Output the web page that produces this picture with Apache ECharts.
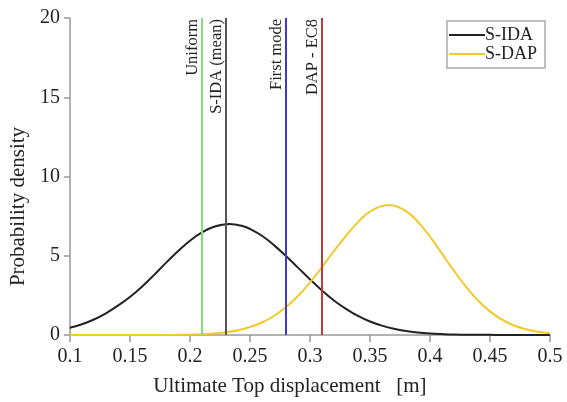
<!DOCTYPE html>
<html>
<head>
<meta charset="utf-8">
<script src="https://cdn.jsdelivr.net/npm/echarts@6/dist/echarts.min.js"></script>
<style>
  html, body {margin: 0; padding: 0; background: #fff;}
  #chart {width: 567px; height: 402px;}
</style>
</head>
<body>
<div id="chart"></div>
<script>
// S-IDA curve: displacement (m) and density
const idaX = [0.10, 0.11, 0.12, 0.13, 0.14, 0.15, 0.16, 0.17, 0.18, 0.19,
  0.20, 0.21, 0.22, 0.233, 0.245, 0.25, 0.26, 0.27, 0.28, 0.29,
  0.30, 0.31, 0.32, 0.33, 0.34, 0.35, 0.36, 0.37, 0.38, 0.39,
  0.40, 0.41, 0.42, 0.43, 0.44, 0.45, 0.46, 0.48, 0.50];
const idaY = [0.46, 0.68, 0.98, 1.37, 1.85, 2.40, 3.05, 3.78, 4.55, 5.28,
  5.95, 6.47, 6.83, 7.00, 6.85, 6.69, 6.26, 5.67, 4.98, 4.25,
  3.51, 2.81, 2.18, 1.65, 1.20, 0.85, 0.59, 0.39, 0.25, 0.16,
  0.10, 0.06, 0.03, 0.02, 0.01, 0.01, 0, 0, 0];
// S-DAP curve
const dapX = [0.10, 0.12, 0.14, 0.16, 0.18, 0.19,
  0.20, 0.21, 0.22, 0.23, 0.24, 0.25, 0.26, 0.27, 0.28, 0.29,
  0.30, 0.31, 0.32, 0.33, 0.34, 0.35, 0.366, 0.38, 0.39,
  0.40, 0.41, 0.42, 0.43, 0.44, 0.45, 0.46, 0.47, 0.48, 0.49, 0.50];
const dapY = [0, 0, 0, 0, 0, 0.01,
  0.02, 0.05, 0.10, 0.17, 0.30, 0.50, 0.79, 1.20, 1.76, 2.46,
  3.31, 4.28, 5.30, 6.26, 7.12, 7.78, 8.20, 7.82, 7.14,
  6.21, 5.13, 4.05, 3.05, 2.18, 1.49, 0.97, 0.60, 0.36, 0.20, 0.11];
// reference displacements
const refNames = ['Uniform', 'S-IDA (mean)', 'First mode', 'DAP - EC8'];
const refValues = [0.21, 0.233, 0.278, 0.312];
const refColors = ['#7fe07f', '#555555', '#3a3ad0', '#c0393b'];
const xTicks = ['0.1', '0.15', '0.2', '0.25', '0.3', '0.35', '0.4', '0.45', '0.5'];

const font = 'Liberation Serif';
const chart = echarts.init(document.getElementById('chart'));

const pairs = (xs, ys) => xs.map((x, i) => [x, ys[i]]);

chart.setOption({
  animation: false,
  textStyle: {fontFamily: font},
  grid: {left: 68, right: 17, top: 18, bottom: 67},
  legend: {
    right: 22, top: 21,
    orient: 'vertical',
    data: ['S-IDA', 'S-DAP'],
    borderColor: '#aaa', borderWidth: 1.5,
    padding: [5, 8, 5, 2],
    itemGap: 1, itemWidth: 36, itemHeight: 10,
    icon: 'path://M0,4L36,4L36,6L0,6Z',
    textStyle: {fontFamily: font, fontSize: 18, color: '#222', padding: [0, 0, 0, -5]},
  },
  xAxis: {
    type: 'value',
    min: 0.1, max: 0.5, interval: 0.05,
    name: 'Ultimate Top displacement   [m]',
    nameLocation: 'middle', nameGap: 41,
    nameTextStyle: {fontFamily: font, fontSize: 21, color: '#222', padding: [0, 40, 0, 0]},
    axisLine: {lineStyle: {color: '#999', width: 1.5}},
    axisTick: {length: 7, lineStyle: {color: '#999', width: 1.5}},
    splitLine: {show: false},
    axisLabel: {
      fontFamily: font, fontSize: 20, color: '#222', margin: 12,
      formatter: v => xTicks[Math.round((v - 0.1) / 0.05)],
    },
  },
  yAxis: {
    type: 'value',
    min: 0, max: 20, interval: 5,
    name: 'Probability density',
    nameLocation: 'middle', nameGap: 38,
    nameTextStyle: {fontFamily: font, fontSize: 21, color: '#222', padding: [0, 60, 0, 0]},
    axisLine: {show: true, lineStyle: {color: '#999', width: 1.5}},
    axisTick: {show: true, length: 6, lineStyle: {color: '#999', width: 1.5}},
    splitLine: {show: false},
    axisLabel: {fontFamily: font, fontSize: 20, color: '#222', margin: 10},
  },
  series: [
    {
      name: 'refs', type: 'line', data: [], silent: true,
      markLine: {
        symbol: 'none', silent: true,
        data: refValues.map((v, i) => ({
          xAxis: v,
          lineStyle: {color: refColors[i], width: 2, type: 'solid'},
          label: {
            show: true, formatter: refNames[i], position: 'insideEndTop',
            fontFamily: font, fontSize: 16.5, color: '#222', distance: 1,
          },
        })),
      },
    },
    {
      name: 'S-IDA', type: 'line', data: pairs(idaX, idaY),
      smooth: 0.4, showSymbol: false,
      lineStyle: {color: '#222', width: 2}, itemStyle: {color: '#222'},
    },
    {
      name: 'S-DAP', type: 'line', data: pairs(dapX, dapY),
      smooth: 0.4, showSymbol: false,
      lineStyle: {color: '#f5c82a', width: 2}, itemStyle: {color: '#f5c82a'},
    },
  ],
});
</script>
</body>
</html>
